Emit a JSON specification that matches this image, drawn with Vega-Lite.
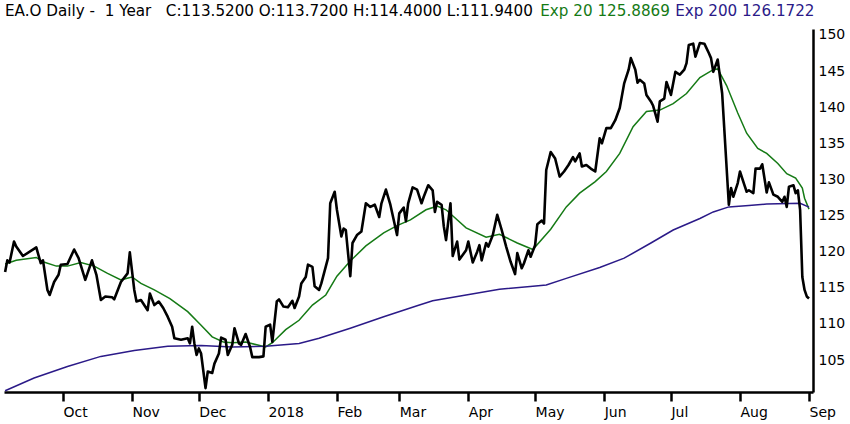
{
  "$schema": "https://vega.github.io/schema/vega-lite/v6.json",
  "autosize": "none",
  "width": 809,
  "height": 363,
  "padding": {"left": 4, "top": 29, "right": 37, "bottom": 32},
  "background": "white",
  "title": {
    "text": "EA.O Daily -\u00a0 1 Year\u00a0\u00a0 C:113.5200 O:113.7200 H:114.4000 L:111.9400",
    "anchor": "start",
    "frame": "group",
    "font": "DejaVu Sans",
    "fontSize": 15.2,
    "fontWeight": "normal",
    "color": "black",
    "baseline": "alphabetic",
    "offset": 0,
    "dy": 23,
    "dx": 1
  },
  "config": {
    "view": {"stroke": null},
    "axis": {"labelFont": "DejaVu Sans", "labelFontSize": 14, "labelColor": "black", "grid": false, "title": null, "domainColor": "black", "domainWidth": 2.5}
  },
  "datasets": {
    "price": [
      {"date": "2017-09-05", "close": 117.2}, {"date": "2017-09-06", "close": 118.8}, {"date": "2017-09-07", "close": 118.5},
      {"date": "2017-09-09", "close": 121.4}, {"date": "2017-09-10", "close": 120.7}, {"date": "2017-09-13", "close": 119.4},
      {"date": "2017-09-19", "close": 120.6}, {"date": "2017-09-21", "close": 118.4}, {"date": "2017-09-22", "close": 118.8},
      {"date": "2017-09-24", "close": 114.7}, {"date": "2017-09-25", "close": 114.0}, {"date": "2017-09-27", "close": 115.8},
      {"date": "2017-09-29", "close": 116.8}, {"date": "2017-09-30", "close": 118.2}, {"date": "2017-10-03", "close": 118.3},
      {"date": "2017-10-06", "close": 120.3}, {"date": "2017-10-08", "close": 119.1}, {"date": "2017-10-11", "close": 116.1},
      {"date": "2017-10-14", "close": 118.8}, {"date": "2017-10-16", "close": 116.8}, {"date": "2017-10-18", "close": 113.3},
      {"date": "2017-10-20", "close": 113.8}, {"date": "2017-10-23", "close": 113.7}, {"date": "2017-10-24", "close": 113.4},
      {"date": "2017-10-27", "close": 115.8}, {"date": "2017-10-30", "close": 117.0}, {"date": "2017-10-31", "close": 119.9},
      {"date": "2017-11-02", "close": 114.7}, {"date": "2017-11-03", "close": 113.1}, {"date": "2017-11-05", "close": 113.3},
      {"date": "2017-11-08", "close": 111.9}, {"date": "2017-11-09", "close": 114.2}, {"date": "2017-11-11", "close": 112.6},
      {"date": "2017-11-13", "close": 113.1}, {"date": "2017-11-15", "close": 112.2}, {"date": "2017-11-17", "close": 111.0},
      {"date": "2017-11-19", "close": 109.6}, {"date": "2017-11-20", "close": 108.0}, {"date": "2017-11-23", "close": 107.8},
      {"date": "2017-11-26", "close": 108.0}, {"date": "2017-11-27", "close": 107.3}, {"date": "2017-11-28", "close": 109.6},
      {"date": "2017-11-29", "close": 107.3}, {"date": "2017-11-30", "close": 105.7}, {"date": "2017-12-01", "close": 106.6},
      {"date": "2017-12-02", "close": 105.9}, {"date": "2017-12-04", "close": 101.1}, {"date": "2017-12-05", "close": 103.4},
      {"date": "2017-12-07", "close": 103.2}, {"date": "2017-12-08", "close": 104.5}, {"date": "2017-12-10", "close": 105.9},
      {"date": "2017-12-11", "close": 108.1}, {"date": "2017-12-13", "close": 107.8}, {"date": "2017-12-14", "close": 105.7},
      {"date": "2017-12-16", "close": 107.1}, {"date": "2017-12-17", "close": 109.4}, {"date": "2017-12-19", "close": 107.3},
      {"date": "2017-12-20", "close": 107.1}, {"date": "2017-12-22", "close": 108.6}, {"date": "2017-12-24", "close": 106.8},
      {"date": "2017-12-25", "close": 105.4}, {"date": "2017-12-28", "close": 105.4}, {"date": "2017-12-30", "close": 105.5},
      {"date": "2017-12-31", "close": 109.6}, {"date": "2018-01-02", "close": 109.9}, {"date": "2018-01-03", "close": 107.5},
      {"date": "2018-01-05", "close": 113.1}, {"date": "2018-01-06", "close": 113.4}, {"date": "2018-01-08", "close": 112.4},
      {"date": "2018-01-10", "close": 112.3}, {"date": "2018-01-12", "close": 113.2}, {"date": "2018-01-13", "close": 112.2},
      {"date": "2018-01-15", "close": 113.8}, {"date": "2018-01-16", "close": 115.6}, {"date": "2018-01-18", "close": 116.5},
      {"date": "2018-01-19", "close": 118.2}, {"date": "2018-01-21", "close": 117.9}, {"date": "2018-01-22", "close": 115.2},
      {"date": "2018-01-24", "close": 114.7}, {"date": "2018-01-25", "close": 115.6}, {"date": "2018-01-28", "close": 119.1},
      {"date": "2018-01-29", "close": 126.7}, {"date": "2018-01-31", "close": 128.3}, {"date": "2018-02-01", "close": 125.8},
      {"date": "2018-02-03", "close": 122.1}, {"date": "2018-02-04", "close": 123.2}, {"date": "2018-02-05", "close": 123.0},
      {"date": "2018-02-07", "close": 116.6}, {"date": "2018-02-08", "close": 121.2}, {"date": "2018-02-10", "close": 122.3},
      {"date": "2018-02-12", "close": 122.8}, {"date": "2018-02-14", "close": 126.7}, {"date": "2018-02-16", "close": 126.2},
      {"date": "2018-02-18", "close": 126.5}, {"date": "2018-02-20", "close": 124.8}, {"date": "2018-02-21", "close": 126.7},
      {"date": "2018-02-23", "close": 128.6}, {"date": "2018-02-25", "close": 126.5}, {"date": "2018-02-28", "close": 122.3},
      {"date": "2018-03-01", "close": 125.3}, {"date": "2018-03-03", "close": 126.1}, {"date": "2018-03-04", "close": 124.2},
      {"date": "2018-03-05", "close": 126.7}, {"date": "2018-03-07", "close": 128.9}, {"date": "2018-03-09", "close": 128.6},
      {"date": "2018-03-11", "close": 126.7}, {"date": "2018-03-12", "close": 127.6}, {"date": "2018-03-14", "close": 129.2},
      {"date": "2018-03-16", "close": 128.5}, {"date": "2018-03-17", "close": 125.5}, {"date": "2018-03-18", "close": 126.9},
      {"date": "2018-03-20", "close": 126.5}, {"date": "2018-03-21", "close": 123.5}, {"date": "2018-03-22", "close": 121.6},
      {"date": "2018-03-24", "close": 126.7}, {"date": "2018-03-25", "close": 119.4}, {"date": "2018-03-27", "close": 121.4},
      {"date": "2018-03-28", "close": 118.9}, {"date": "2018-03-31", "close": 120.2}, {"date": "2018-04-01", "close": 121.4},
      {"date": "2018-04-03", "close": 118.5}, {"date": "2018-04-05", "close": 120.0}, {"date": "2018-04-06", "close": 120.9},
      {"date": "2018-04-07", "close": 118.8}, {"date": "2018-04-09", "close": 121.2}, {"date": "2018-04-10", "close": 120.7},
      {"date": "2018-04-12", "close": 122.3}, {"date": "2018-04-14", "close": 125.1}, {"date": "2018-04-16", "close": 123.0},
      {"date": "2018-04-18", "close": 120.7}, {"date": "2018-04-20", "close": 118.6}, {"date": "2018-04-22", "close": 116.9},
      {"date": "2018-04-23", "close": 119.8}, {"date": "2018-04-25", "close": 117.7}, {"date": "2018-04-26", "close": 118.4},
      {"date": "2018-04-28", "close": 120.2}, {"date": "2018-04-29", "close": 119.3}, {"date": "2018-05-01", "close": 120.9},
      {"date": "2018-05-02", "close": 123.8}, {"date": "2018-05-04", "close": 124.3}, {"date": "2018-05-05", "close": 123.9},
      {"date": "2018-05-06", "close": 131.3}, {"date": "2018-05-08", "close": 133.8}, {"date": "2018-05-10", "close": 132.9},
      {"date": "2018-05-12", "close": 130.4}, {"date": "2018-05-14", "close": 131.1}, {"date": "2018-05-16", "close": 132.0},
      {"date": "2018-05-18", "close": 133.1}, {"date": "2018-05-19", "close": 132.5}, {"date": "2018-05-21", "close": 133.6},
      {"date": "2018-05-22", "close": 131.8}, {"date": "2018-05-24", "close": 132.0}, {"date": "2018-05-26", "close": 131.5},
      {"date": "2018-05-28", "close": 131.1}, {"date": "2018-05-30", "close": 135.7}, {"date": "2018-05-31", "close": 135.0},
      {"date": "2018-06-02", "close": 137.1}, {"date": "2018-06-04", "close": 137.1}, {"date": "2018-06-06", "close": 138.2},
      {"date": "2018-06-08", "close": 139.9}, {"date": "2018-06-10", "close": 143.3}, {"date": "2018-06-12", "close": 145.2},
      {"date": "2018-06-13", "close": 146.8}, {"date": "2018-06-15", "close": 145.2}, {"date": "2018-06-16", "close": 143.4},
      {"date": "2018-06-17", "close": 143.8}, {"date": "2018-06-19", "close": 143.3}, {"date": "2018-06-20", "close": 141.7},
      {"date": "2018-06-22", "close": 140.8}, {"date": "2018-06-23", "close": 140.2}, {"date": "2018-06-25", "close": 138.0},
      {"date": "2018-06-26", "close": 140.8}, {"date": "2018-06-28", "close": 141.2}, {"date": "2018-06-29", "close": 143.5},
      {"date": "2018-07-01", "close": 141.7}, {"date": "2018-07-03", "close": 144.9}, {"date": "2018-07-05", "close": 144.5},
      {"date": "2018-07-07", "close": 145.2}, {"date": "2018-07-08", "close": 146.1}, {"date": "2018-07-09", "close": 148.6},
      {"date": "2018-07-11", "close": 148.8}, {"date": "2018-07-12", "close": 147.0}, {"date": "2018-07-14", "close": 148.9},
      {"date": "2018-07-16", "close": 148.8}, {"date": "2018-07-18", "close": 147.5}, {"date": "2018-07-19", "close": 146.8},
      {"date": "2018-07-20", "close": 144.9}, {"date": "2018-07-22", "close": 146.6}, {"date": "2018-07-24", "close": 141.9},
      {"date": "2018-07-27", "close": 126.5}, {"date": "2018-07-28", "close": 128.8}, {"date": "2018-07-29", "close": 127.6},
      {"date": "2018-07-31", "close": 129.5}, {"date": "2018-08-01", "close": 131.1}, {"date": "2018-08-03", "close": 129.2},
      {"date": "2018-08-04", "close": 128.3}, {"date": "2018-08-05", "close": 128.5}, {"date": "2018-08-07", "close": 128.1},
      {"date": "2018-08-08", "close": 131.5}, {"date": "2018-08-10", "close": 131.5}, {"date": "2018-08-11", "close": 132.1},
      {"date": "2018-08-13", "close": 128.2}, {"date": "2018-08-14", "close": 129.6}, {"date": "2018-08-16", "close": 127.9},
      {"date": "2018-08-18", "close": 127.6}, {"date": "2018-08-20", "close": 126.9}, {"date": "2018-08-21", "close": 127.6},
      {"date": "2018-08-22", "close": 126.2}, {"date": "2018-08-23", "close": 129.0}, {"date": "2018-08-25", "close": 129.2},
      {"date": "2018-08-26", "close": 128.1}, {"date": "2018-08-27", "close": 128.5}, {"date": "2018-08-28", "close": 125.8},
      {"date": "2018-08-29", "close": 116.5}, {"date": "2018-08-30", "close": 114.7}, {"date": "2018-08-31", "close": 113.8},
      {"date": "2018-09-01", "close": 113.52}
    ],
    "ema": [
      {"date": "2017-09-05", "series": "Exp 20", "value": 118.3}, {"date": "2017-09-10", "series": "Exp 20", "value": 118.8},
      {"date": "2017-09-19", "series": "Exp 20", "value": 119.2}, {"date": "2017-09-22", "series": "Exp 20", "value": 118.6},
      {"date": "2017-09-28", "series": "Exp 20", "value": 118.0}, {"date": "2017-10-03", "series": "Exp 20", "value": 118.0},
      {"date": "2017-10-09", "series": "Exp 20", "value": 118.5}, {"date": "2017-10-15", "series": "Exp 20", "value": 118.0},
      {"date": "2017-10-21", "series": "Exp 20", "value": 117.0}, {"date": "2017-10-27", "series": "Exp 20", "value": 116.1},
      {"date": "2017-11-01", "series": "Exp 20", "value": 116.5}, {"date": "2017-11-05", "series": "Exp 20", "value": 115.6},
      {"date": "2017-11-11", "series": "Exp 20", "value": 114.7}, {"date": "2017-11-18", "series": "Exp 20", "value": 113.5},
      {"date": "2017-11-26", "series": "Exp 20", "value": 111.7}, {"date": "2017-12-02", "series": "Exp 20", "value": 109.8},
      {"date": "2017-12-07", "series": "Exp 20", "value": 108.2}, {"date": "2017-12-12", "series": "Exp 20", "value": 107.5},
      {"date": "2017-12-16", "series": "Exp 20", "value": 107.4}, {"date": "2017-12-22", "series": "Exp 20", "value": 107.5},
      {"date": "2017-12-27", "series": "Exp 20", "value": 107.1}, {"date": "2017-12-31", "series": "Exp 20", "value": 106.8},
      {"date": "2018-01-03", "series": "Exp 20", "value": 107.4}, {"date": "2018-01-09", "series": "Exp 20", "value": 109.2},
      {"date": "2018-01-15", "series": "Exp 20", "value": 110.5}, {"date": "2018-01-21", "series": "Exp 20", "value": 112.6},
      {"date": "2018-01-27", "series": "Exp 20", "value": 114.0}, {"date": "2018-02-01", "series": "Exp 20", "value": 116.6},
      {"date": "2018-02-07", "series": "Exp 20", "value": 118.7}, {"date": "2018-02-14", "series": "Exp 20", "value": 120.8},
      {"date": "2018-02-22", "series": "Exp 20", "value": 122.6}, {"date": "2018-02-28", "series": "Exp 20", "value": 123.6},
      {"date": "2018-03-06", "series": "Exp 20", "value": 124.4}, {"date": "2018-03-13", "series": "Exp 20", "value": 125.8},
      {"date": "2018-03-18", "series": "Exp 20", "value": 126.3}, {"date": "2018-03-22", "series": "Exp 20", "value": 125.8},
      {"date": "2018-03-31", "series": "Exp 20", "value": 123.3}, {"date": "2018-04-09", "series": "Exp 20", "value": 122.0},
      {"date": "2018-04-15", "series": "Exp 20", "value": 122.4}, {"date": "2018-04-23", "series": "Exp 20", "value": 121.2},
      {"date": "2018-04-30", "series": "Exp 20", "value": 120.3}, {"date": "2018-05-08", "series": "Exp 20", "value": 123.1},
      {"date": "2018-05-15", "series": "Exp 20", "value": 126.2}, {"date": "2018-05-21", "series": "Exp 20", "value": 128.1},
      {"date": "2018-05-28", "series": "Exp 20", "value": 129.7}, {"date": "2018-06-02", "series": "Exp 20", "value": 131.1},
      {"date": "2018-06-08", "series": "Exp 20", "value": 133.6}, {"date": "2018-06-14", "series": "Exp 20", "value": 137.3},
      {"date": "2018-06-20", "series": "Exp 20", "value": 139.4}, {"date": "2018-06-26", "series": "Exp 20", "value": 139.6},
      {"date": "2018-07-02", "series": "Exp 20", "value": 140.5}, {"date": "2018-07-08", "series": "Exp 20", "value": 141.9},
      {"date": "2018-07-14", "series": "Exp 20", "value": 144.1}, {"date": "2018-07-20", "series": "Exp 20", "value": 145.2},
      {"date": "2018-07-22", "series": "Exp 20", "value": 145.3}, {"date": "2018-07-26", "series": "Exp 20", "value": 143.0},
      {"date": "2018-07-31", "series": "Exp 20", "value": 139.2}, {"date": "2018-08-04", "series": "Exp 20", "value": 136.4},
      {"date": "2018-08-09", "series": "Exp 20", "value": 134.3}, {"date": "2018-08-13", "series": "Exp 20", "value": 133.6},
      {"date": "2018-08-18", "series": "Exp 20", "value": 132.2}, {"date": "2018-08-22", "series": "Exp 20", "value": 130.8},
      {"date": "2018-08-26", "series": "Exp 20", "value": 130.2}, {"date": "2018-08-29", "series": "Exp 20", "value": 128.8},
      {"date": "2018-08-30", "series": "Exp 20", "value": 127.4}, {"date": "2018-09-01", "series": "Exp 20", "value": 125.89},
      {"date": "2017-09-05", "series": "Exp 200", "value": 100.75}, {"date": "2017-09-18", "series": "Exp 200", "value": 102.5},
      {"date": "2017-10-03", "series": "Exp 200", "value": 104.1}, {"date": "2017-10-18", "series": "Exp 200", "value": 105.5},
      {"date": "2017-11-02", "series": "Exp 200", "value": 106.3}, {"date": "2017-11-17", "series": "Exp 200", "value": 106.9},
      {"date": "2017-12-02", "series": "Exp 200", "value": 107.0}, {"date": "2017-12-16", "series": "Exp 200", "value": 106.8},
      {"date": "2017-12-31", "series": "Exp 200", "value": 106.9}, {"date": "2018-01-15", "series": "Exp 200", "value": 107.3},
      {"date": "2018-01-24", "series": "Exp 200", "value": 108.0}, {"date": "2018-02-07", "series": "Exp 200", "value": 109.4},
      {"date": "2018-02-22", "series": "Exp 200", "value": 111.0}, {"date": "2018-03-09", "series": "Exp 200", "value": 112.5},
      {"date": "2018-03-16", "series": "Exp 200", "value": 113.2}, {"date": "2018-03-31", "series": "Exp 200", "value": 114.0},
      {"date": "2018-04-15", "series": "Exp 200", "value": 114.8}, {"date": "2018-04-30", "series": "Exp 200", "value": 115.2},
      {"date": "2018-05-06", "series": "Exp 200", "value": 115.4}, {"date": "2018-05-15", "series": "Exp 200", "value": 116.3},
      {"date": "2018-05-30", "series": "Exp 200", "value": 117.8}, {"date": "2018-06-10", "series": "Exp 200", "value": 119.1},
      {"date": "2018-06-22", "series": "Exp 200", "value": 121.2}, {"date": "2018-07-02", "series": "Exp 200", "value": 123.0},
      {"date": "2018-07-14", "series": "Exp 200", "value": 124.6}, {"date": "2018-07-20", "series": "Exp 200", "value": 125.5},
      {"date": "2018-07-27", "series": "Exp 200", "value": 126.2}, {"date": "2018-08-05", "series": "Exp 200", "value": 126.4},
      {"date": "2018-08-13", "series": "Exp 200", "value": 126.6}, {"date": "2018-08-28", "series": "Exp 200", "value": 126.7},
      {"date": "2018-09-01", "series": "Exp 200", "value": 126.17}
    ]
  },
  "encoding": {
    "x": {
      "field": "date",
      "type": "temporal",
      "scale": {"type": "utc", "domain": [{"year": 2017, "month": 9, "date": 4, "hours": 12, "utc": true}, {"year": 2018, "month": 9, "date": 2, "hours": 19, "utc": true}]},
      "axis": {
        "orient": "bottom",
        "tickCount": {"interval": "month", "step": 1},
        "labelExpr": "utcFormat(datum.value, '%m') == '01' ? utcFormat(datum.value, '%Y') : utcFormat(datum.value, '%b')",
        "labelAlign": "left",
        "labelBaseline": "top",
        "labelPadding": 4,
        "tickSize": 9,
        "tickWidth": 2.5,
        "tickColor": "black",
        "labelOverlap": false,
        "labelBound": false,
        "labelFlush": false
      }
    }
  },
  "layer": [
    {
      "mark": {"type": "text", "font": "DejaVu Sans", "fontSize": 18, "color": "#e8e8e8", "align": "center", "baseline": "middle"},
      "encoding": {
        "x": {"datum": {"year": 2018, "month": 2, "date": 23, "utc": true}, "type": "temporal"},
        "y": {"datum": 103.6, "type": "quantitative"},
        "text": {"value": "ELECTRONIC ARTS INC. - COMMON STOCK"}
      }
    },
    {
      "data": {"name": "ema"},
      "mark": {"type": "line", "strokeWidth": 1.5},
      "encoding": {
        "y": {"field": "value", "type": "quantitative", "scale": {"domain": [100.57, 150.83], "nice": false, "zero": false}},
        "color": {
          "field": "series",
          "type": "nominal",
          "scale": {"domain": ["Exp 20", "Exp 200"], "range": ["#157a15", "#2b1a88"]},
          "legend": {
            "orient": "none",
            "legendX": 535,
            "legendY": -20.5,
            "direction": "horizontal",
            "title": null,
            "symbolOpacity": 0,
            "symbolSize": 0,
            "symbolStrokeWidth": 0,
            "labelOffset": -14,
            "columnPadding": 4,
            "labelFont": "DejaVu Sans",
            "labelFontSize": 15.2,
            "labelBaseline": "alphabetic",
            "labelExpr": "datum.label == 'Exp 20' ? 'Exp 20 125.8869' : 'Exp 200 126.1722'",
            "labelColor": {"expr": "datum.value == 'Exp 20' ? '#157a15' : '#2b1a88'"}
          }
        }
      }
    },
    {
      "data": {"name": "price"},
      "mark": {"type": "line", "color": "black", "strokeWidth": 2.6, "strokeJoin": "round"},
      "encoding": {
        "y": {
          "field": "close",
          "type": "quantitative",
          "scale": {"domain": [100.57, 150.83], "nice": false, "zero": false},
          "axis": {"orient": "right", "values": [105, 110, 115, 120, 125, 130, 135, 140, 145, 150], "tickSize": 0, "labelPadding": 5, "labelBaseline": "middle"}
        }
      }
    }
  ]
}
